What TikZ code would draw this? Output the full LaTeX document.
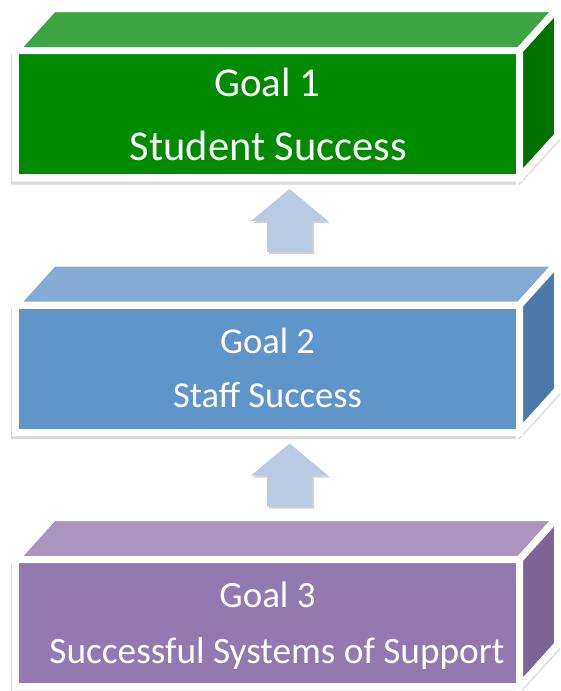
\documentclass[tikz,border=0pt]{standalone}
\usepackage{fontspec}
\setmainfont{Carlito}
\usetikzlibrary{shadows}
\definecolor{gfront}{HTML}{008A00}
\definecolor{gtop}{HTML}{3DA642}
\definecolor{gside}{HTML}{007200}
\definecolor{bfront}{HTML}{5F95C8}
\definecolor{btop}{HTML}{84ABD5}
\definecolor{bside}{HTML}{4B7AAA}
\definecolor{pfront}{HTML}{9279AF}
\definecolor{ptop}{HTML}{AA94C2}
\definecolor{pside}{HTML}{7A6596}
\definecolor{upblue}{HTML}{B9CCE4}
\tikzset{
  face/.style={draw=white, line width=7pt, line join=miter},
  boxshadow/.style={fill=white,
    drop shadow={opacity=0.3, shadow xshift=-1pt, shadow yshift=-3pt}},
  uparrow/.style={fill=upblue,
    drop shadow={opacity=0.35, shadow xshift=2pt, shadow yshift=-2pt}},
  goaltext/.style={text=white, anchor=base}
}
\begin{document}
\begin{tikzpicture}[x=1pt, y=-1pt]
\useasboundingbox (0,0) rectangle (560,691);
% three boxes: top y / front / top face / side face
\foreach \t/\f/\u/\s in {50.5/gfront/gtop/gside, 305/bfront/btop/bside, 559.5/pfront/ptop/pside}{
  \fill[boxshadow] (12,\t+131) -- (12,\t-1) -- (51,\t-45.5) -- (561,\t-45.5)
    -- (561,\t+87) -- (521,\t+131) -- cycle;
  \draw[face, fill=\f] (15.5,\t) rectangle (519.5,\t+127);
  \draw[face, fill=\u] (15.5,\t) -- (53.5,\t-42) -- (557.5,\t-42) -- (519.5,\t) -- cycle;
  \draw[face, fill=\s] (519.5,\t) -- (557.5,\t-42) -- (557.5,\t+85) -- (519.5,\t+127) -- cycle;
}
\node[goaltext, font=\fontsize{41}{48}\selectfont] (g1) at (267.5,96) {Goal 1};
\node[goaltext, font=\fontsize{42.5}{48}\selectfont] (g1t) at (268.5,160) {Student Success};
\node[goaltext, font=\fontsize{36.5}{44}\selectfont] (g2) at (267.5,353) {Goal 2};
\node[goaltext, font=\fontsize{36.5}{44}\selectfont] (g2t) at (267.5,407) {Staff Success};
\node[goaltext, font=\fontsize{37}{44}\selectfont] (g3) at (267.5,607) {Goal 3};
\node[goaltext, font=\fontsize{37.3}{44}\selectfont] (g3t) at (277,663) {Successful Systems of Support};
% block arrows
\foreach \a in {0,254.5}{
  \fill[uparrow] (289.5,189+\a) -- (328,221+\a) -- (312,221+\a) -- (312,252+\a)
    -- (267,252+\a) -- (267,221+\a) -- (251,221+\a) -- cycle;
}
\end{tikzpicture}
\end{document}
